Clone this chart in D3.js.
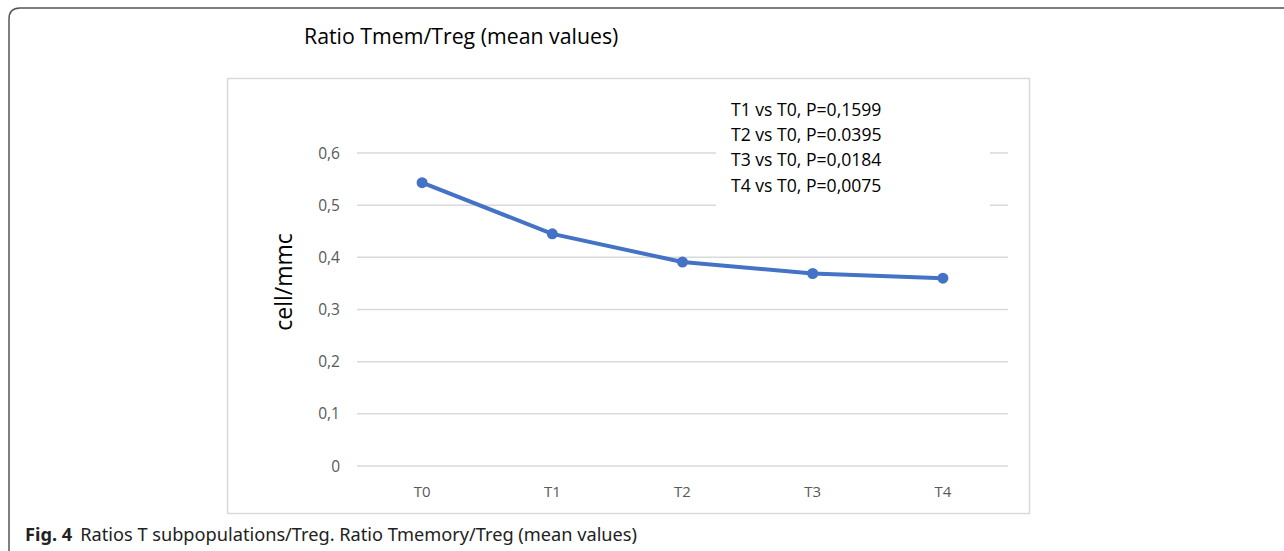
<!DOCTYPE html>
<html><head><meta charset="utf-8">
<script src="https://cdn.jsdelivr.net/npm/d3@7"></script>
<style>body{margin:0;background:#fff}svg{display:block}</style>
</head><body>
<svg id="c" width="1284" height="551"></svg>
<script>
const categories = ["T0","T1","T2","T3","T4"];
const values = [0.543, 0.445, 0.391, 0.369, 0.360];
const yTicks = [0,0.1,0.2,0.3,0.4,0.5,0.6];
const yTickLabels = ["0","0,1","0,2","0,3","0,4","0,5","0,6"];
const annotations = ["T1 vs T0, P=0,1599","T2 vs T0, P=0.0395","T3 vs T0, P=0,0184","T4 vs T0, P=0,0075"];
const title = "Ratio Tmem/Treg (mean values)";
const yTitle = "cell/mmc";

const svg = d3.select("#c");
// outer frame
svg.append("path").attr("d","M9,551 L9,19 Q9,8 20,8 L1284,8")
  .attr("fill","none").attr("stroke","#555").attr("stroke-width",1.5);
// chart box
svg.append("rect").attr("x",227.5).attr("y",78.5).attr("width",802).attr("height",435)
  .attr("fill","#fff").attr("stroke","#d9d9d9").attr("stroke-width",1.5);

const x = d3.scaleBand().domain(categories).range([357,1008]).padding(0);
const y = d3.scaleLinear().domain([0,0.6]).range([466,153]);
const font = "'Open Sans', sans-serif";

// grid
svg.append("g").selectAll("line").data(yTicks).join("line")
  .attr("x1",357).attr("x2",1008).attr("y1",d=>y(d)).attr("y2",d=>y(d))
  .attr("stroke","#d9d9d9").attr("stroke-width",1.5);

// annotation background
svg.append("rect").attr("x",716).attr("y",92).attr("width",274).attr("height",118).attr("fill","#fff");
svg.append("g").selectAll("text").data(annotations).join("text")
  .attr("x",731).attr("y",(d,i)=>115.5+i*25.4).attr("font-family",font).attr("font-size",17.6)
  .attr("fill","#000").text(d=>d);

// y tick labels
svg.append("g").selectAll("text").data(yTicks).join("text")
  .attr("x",340).attr("y",d=>y(d)+5.5).attr("text-anchor","end")
  .attr("font-family",font).attr("font-size",15.5).attr("fill","#595959")
  .text((d,i)=>yTickLabels[i]);
// x labels
svg.append("g").selectAll("text").data(categories).join("text")
  .attr("x",d=>x(d)+x.bandwidth()/2).attr("y",497).attr("text-anchor","middle")
  .attr("font-family",font).attr("font-size",15).attr("fill","#595959").text(d=>d);

// line
const line = d3.line().x((d,i)=>x(categories[i])+x.bandwidth()/2).y(d=>y(d));
svg.append("path").datum(values).attr("d",line).attr("fill","none")
  .attr("stroke","#4472c4").attr("stroke-width",4).attr("stroke-linejoin","round");
svg.append("g").selectAll("circle").data(values).join("circle")
  .attr("cx",(d,i)=>x(categories[i])+x.bandwidth()/2).attr("cy",d=>y(d)).attr("r",5.5)
  .attr("fill","#4472c4");

// titles
svg.append("text").attr("x",304).attr("y",44).attr("font-family",font).attr("font-size",21.3)
  .attr("fill","#000").text(title);
svg.append("text").attr("transform","translate(292,282) rotate(-90)").attr("text-anchor","middle")
  .attr("font-family",font).attr("font-size",23).attr("fill","#000").text(yTitle);

// caption
const cap = svg.append("text").attr("x",25).attr("y",541).attr("font-family","'Noto Sans', sans-serif")
  .attr("font-size",18.2).attr("fill","#222");
cap.append("tspan").attr("font-weight","bold").text("Fig. 4");
cap.append("tspan").attr("dx",8).text("Ratios T subpopulations/Treg. Ratio Tmemory/Treg (mean values)");
</script>
</body></html>
